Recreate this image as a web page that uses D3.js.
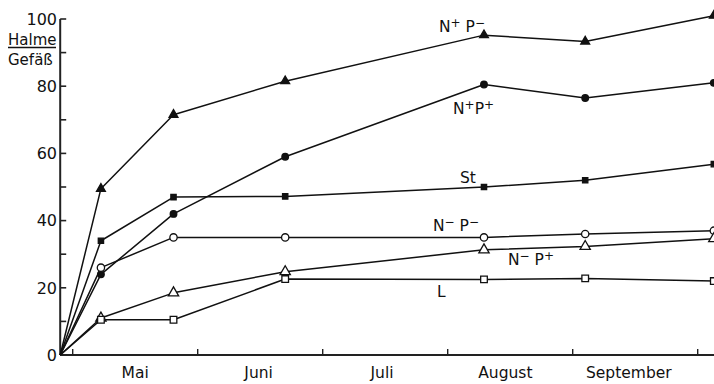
<!DOCTYPE html>
<html>
<head>
<meta charset="utf-8">
<script src="https://cdn.jsdelivr.net/npm/d3@7"></script>
<style>
  html, body { margin: 0; padding: 0; background: #fff; }
  svg { display: block; }
  text { font-family: "DejaVu Sans", sans-serif; fill: #111; }
</style>
</head>
<body>
<svg id="chart" width="714" height="384"></svg>
<script>
// Sampling dates (month-day) and tiller counts per pot for each treatment
const dates = ["04-28", "05-08", "05-26", "06-22", "08-10", "09-04", "10-05"];
const nPlusPMinus  = [0, 49.5, 71.5, 81.5, 95.2, 93.3, 101];
const nPlusPPlus   = [0, 24, 42, 59, 80.5, 76.5, 81];
const st           = [0, 34, 47, 47.2, 50, 52, 56.8];
const nMinusPMinus = [0, 26, 35, 35, 35, 36, 37];
const nMinusPPlus  = [0, 11, 18.5, 24.8, 31.3, 32.3, 34.6];
const lVals        = [0, 10.5, 10.5, 22.6, 22.5, 22.8, 22];
const months = ["Mai", "Juni", "Juli", "August", "September"];
const yTicks = [0, 10, 20, 30, 40, 50, 60, 70, 80, 90, 100];
const yLabels = [0, 20, 40, 60, 80, 100];

// month position: 0 = 1 May, 1 = 1 June, ...
const daysIn = [31, 28, 31, 30, 31, 30, 31, 31, 30, 31, 30, 31];
function monthPos(md) {
  const [m, d] = md.split("-").map(Number);
  return (m - 5) + (d - 1) / daysIn[m - 1];
}

const svg = d3.select("#chart");
const x = d3.scaleLinear().domain([0, 5]).range([72.7, 697.7]);
const y = d3.scaleLinear().domain([0, 100]).range([355, 19]);
const x0 = x(monthPos(dates[0]));

// axes
const axisColor = "#222";
svg.append("line").attr("x1", x0).attr("x2", 714)
  .attr("y1", y(0)).attr("y2", y(0))
  .attr("stroke", axisColor).attr("stroke-width", 2);
svg.append("line").attr("x1", x0).attr("x2", x0)
  .attr("y1", y(100)).attr("y2", y(0))
  .attr("stroke", axisColor).attr("stroke-width", 2);

// y ticks point inward
svg.selectAll(".ytick").data(yTicks).join("line")
  .attr("x1", x0).attr("x2", x0 + 6)
  .attr("y1", d => y(d)).attr("y2", d => y(d))
  .attr("stroke", axisColor).attr("stroke-width", 1.6);
svg.selectAll(".ylab").data(yLabels).join("text")
  .attr("x", 57).attr("y", d => y(d))
  .attr("dy", "0.36em")
  .attr("text-anchor", "end")
  .attr("font-size", 16)
  .text(d => d);

// unit label Halme / Gefäß
svg.append("text").attr("x", 8).attr("y", 45).attr("font-size", 15).text("Halme");
svg.append("line").attr("x1", 8).attr("x2", 56).attr("y1", 47.5).attr("y2", 47.5)
  .attr("stroke", "#111").attr("stroke-width", 1.4);
svg.append("text").attr("x", 8).attr("y", 65).attr("font-size", 15).text("Gefäß");

// x ticks at month boundaries, pointing up
svg.selectAll(".xtick").data(d3.range(0, 6)).join("line")
  .attr("x1", d => x(d)).attr("x2", d => x(d))
  .attr("y1", y(0)).attr("y2", y(0) - 6)
  .attr("stroke", axisColor).attr("stroke-width", 1.4);
svg.selectAll(".xlab").data(months).join("text")
  .attr("x", (d, i) => x(i + 0.5) - i * 1.6)
  .attr("y", 378)
  .attr("text-anchor", "middle")
  .attr("font-size", 15.5)
  .text(d => d);

// series
const series = [
  { name: "NpPm", values: nPlusPMinus,  symbol: d3.symbolTriangle, size: 34, fill: "#111" },
  { name: "NpPp", values: nPlusPPlus,   symbol: d3.symbolCircle,   size: 34, fill: "#111" },
  { name: "St",   values: st,           symbol: d3.symbolSquare,   size: 28, fill: "#111" },
  { name: "NmPm", values: nMinusPMinus, symbol: d3.symbolCircle,   size: 42, fill: "#fff" },
  { name: "NmPp", values: nMinusPPlus,  symbol: d3.symbolTriangle, size: 46, fill: "#fff" },
  { name: "L",    values: lVals,        symbol: d3.symbolSquare,   size: 44, fill: "#fff" }
];

const line = d3.line()
  .x((d, i) => x(monthPos(dates[i])))
  .y(d => y(d));

series.forEach(s => {
  svg.append("path").datum(s.values)
    .attr("d", line)
    .attr("fill", "none")
    .attr("stroke", "#111")
    .attr("stroke-width", 1.5)
    .attr("stroke-linejoin", "round");
});
series.forEach(s => {
  svg.append("g").selectAll("path")
    .data(s.values.map((v, i) => ({ v, i })).filter(p => p.i > 0))
    .join("path")
    .attr("transform", p => `translate(${x(monthPos(dates[p.i]))},${y(p.v)})`)
    .attr("d", d3.symbol().type(s.symbol).size(s.size))
    .attr("fill", s.fill)
    .attr("stroke", "#111")
    .attr("stroke-width", 1.3);
});

// treatment labels, anchored to the August sample of each series
const labels = [
  { parts: [["N", 0], ["+", 1], [" P", 0], ["−", 1]], values: nPlusPMinus,  dx: 1,   dy: -3, anchor: "end" },
  { parts: [["N", 0], ["+", 1], ["P", 0], ["+", 1]],  values: nPlusPPlus,   dx: -31, dy: 29, anchor: "start" },
  { parts: [["St", 0]],                               values: st,           dx: -24, dy: -4, anchor: "start" },
  { parts: [["N", 0], ["−", 1], [" P", 0], ["−", 1]], values: nMinusPMinus, dx: -51, dy: -6, anchor: "start" },
  { parts: [["N", 0], ["−", 1], [" P", 0], ["+", 1]], values: nMinusPPlus,  dx: 24,  dy: 15, anchor: "start" },
  { parts: [["L", 0]],                                values: lVals,        dx: -47, dy: 18, anchor: "start" }
];
const labelIdx = 4;
labels.forEach(l => {
  const t = svg.append("text")
    .attr("x", x(monthPos(dates[labelIdx])) + l.dx)
    .attr("y", y(l.values[labelIdx]) + l.dy)
    .attr("text-anchor", l.anchor)
    .attr("font-size", 15.5)
    .attr("xml:space", "preserve");
  l.parts.forEach(([str, sup]) => {
    t.append("tspan")
      .attr("font-size", sup ? 12 : 15.5)
      .attr("baseline-shift", sup ? "5.5" : null)
      .text(str);
  });
});
</script>
</body>
</html>
